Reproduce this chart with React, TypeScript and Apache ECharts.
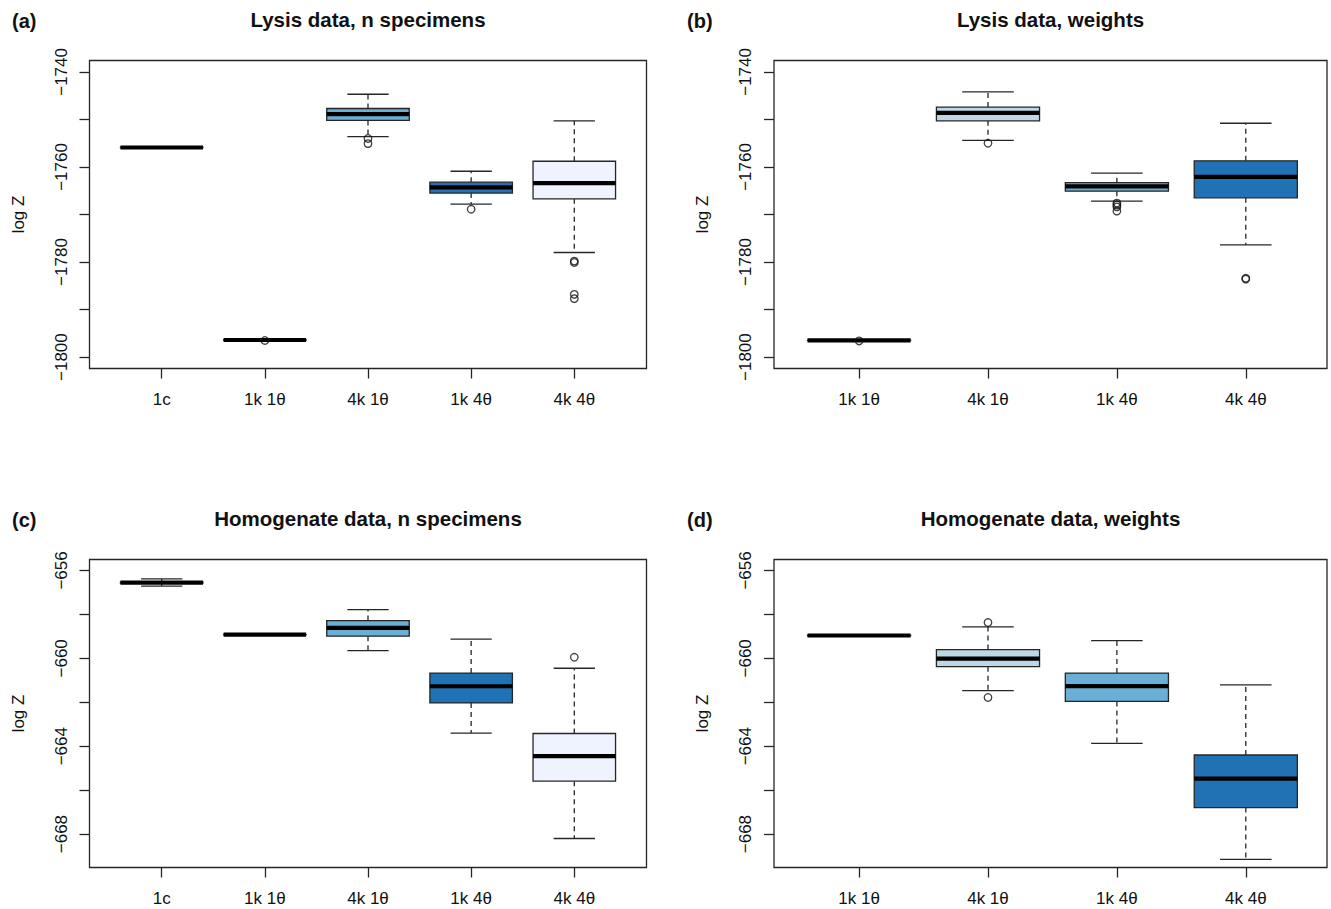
import React, { useEffect, useRef } from 'react';
import * as echarts from 'echarts';

// ---------- categories ----------
const catsN = ['1c', '1k 1θ', '4k 1θ', '1k 4θ', '4k 4θ'];
const catsW = ['1k 1θ', '4k 1θ', '1k 4θ', '4k 4θ'];

// ---------- box statistics: [min, Q1, median, Q3, max] ----------
const lysisNBoxes = [
  [-1755.9, -1755.9, -1755.9, -1755.9, -1755.9],
  [-1796.4, -1796.4, -1796.4, -1796.4, -1796.4],
  [-1753.6, -1750.2, -1748.9, -1747.7, -1744.7],
  [-1767.8, -1765.5, -1764.3, -1763.2, -1760.9],
  [-1778.0, -1766.7, -1763.4, -1758.8, -1750.3],
];
const lysisNOutliers = [
  [2, -1796.5], [3, -1754.0], [3, -1755.1], [4, -1768.9],
  [5, -1779.8], [5, -1780.1], [5, -1786.8], [5, -1787.7],
];

const lysisWBoxes = [
  [-1796.5, -1796.5, -1796.5, -1796.5, -1796.5],
  [-1754.4, -1750.3, -1748.6, -1747.4, -1744.2],
  [-1767.2, -1765.1, -1764.1, -1763.3, -1761.3],
  [-1776.4, -1766.5, -1762.1, -1758.7, -1750.8],
];
const lysisWOutliers = [
  [1, -1796.6], [2, -1755.0], [3, -1767.6], [3, -1768.0], [3, -1768.4], [3, -1769.3],
  [4, -1783.4], [4, -1783.6],
];

const homogNBoxes = [
  [-656.71, -656.57, -656.55, -656.53, -656.38],
  [-658.92, -658.92, -658.92, -658.92, -658.92],
  [-659.65, -658.99, -658.61, -658.28, -657.78],
  [-663.40, -662.03, -661.27, -660.67, -659.12],
  [-668.20, -665.59, -664.45, -663.42, -660.45],
];
const homogNOutliers = [[5, -659.95]];

const homogWBoxes = [
  [-658.96, -658.96, -658.96, -658.96, -658.96],
  [-661.47, -660.38, -660.01, -659.60, -658.57],
  [-663.87, -661.96, -661.26, -660.67, -659.19],
  [-669.15, -666.79, -665.47, -664.40, -661.21],
];
const homogWOutliers = [[2, -658.37], [2, -661.78]];

// ---------- tick values ----------
const lysisTicks = [-1800, -1790, -1780, -1770, -1760, -1750, -1740];
const lysisLabels = [-1800, -1780, -1760, -1740];
const homogTicks = [-668, -666, -664, -662, -660, -658, -656];
const homogLabels = [-668, -664, -660, -656];

// ---------- colours (Blues, recycled) ----------
const blues = ['#eff3ff', '#bdd7e7', '#6baed6', '#2171b5'];

const titles = [
  'Lysis data, n specimens',
  'Lysis data, weights',
  'Homogenate data, n specimens',
  'Homogenate data, weights',
];
const panelTags = ['(a)', '(b)', '(c)', '(d)'];

const FONT = "'Liberation Sans', Arial, Helvetica, sans-serif";
const INK = '#262626';

export default function App() {
  const ref = useRef<HTMLDivElement>(null);

  useEffect(() => {
    if (!ref.current) return;
    const chart = echarts.init(ref.current, undefined, { renderer: 'svg' });

    const panels = [
      { cats: catsN, boxes: lysisNBoxes, outs: lysisNOutliers, ticks: lysisTicks, labels: lysisLabels,
        yMin: -1802.4, yMax: -1737.6, xMin: 0.3, xMax: 5.7,
        grid: { left: 89.5, top: 60.5, width: 557, height: 308 } },
      { cats: catsW, boxes: lysisWBoxes, outs: lysisWOutliers, ticks: lysisTicks, labels: lysisLabels,
        yMin: -1802.4, yMax: -1737.6, xMin: 0.34, xMax: 4.63,
        grid: { left: 774, top: 60.5, width: 553, height: 308 } },
      { cats: catsN, boxes: homogNBoxes, outs: homogNOutliers, ticks: homogTicks, labels: homogLabels,
        yMin: -669.52, yMax: -655.5, xMin: 0.3, xMax: 5.7,
        grid: { left: 89.5, top: 559.5, width: 557, height: 308 } },
      { cats: catsW, boxes: homogWBoxes, outs: homogWOutliers, ticks: homogTicks, labels: homogLabels,
        yMin: -669.52, yMax: -655.5, xMin: 0.34, xMax: 4.63,
        grid: { left: 774, top: 559.5, width: 553, height: 308 } },
    ];

    const grid: any[] = [];
    const xAxis: any[] = [];
    const yAxis: any[] = [];
    const series: any[] = [];
    const title: any[] = [];

    panels.forEach((p, pi) => {
      grid.push({
        ...p.grid,
        show: true,
        borderColor: INK,
        borderWidth: 1.3,
        backgroundColor: 'transparent',
        containLabel: false,
      });
      const cats = p.cats;
      const xticks = cats.map((_, i) => i + 1);
      xAxis.push({
        type: 'value',
        gridIndex: pi,
        min: p.xMin,
        max: p.xMax,
        axisLine: { show: false },
        splitLine: { show: false },
        axisTick: { show: true, length: 10, lineStyle: { color: INK, width: 1.3 }, customValues: xticks },
        axisLabel: {
          show: true,
          margin: 22,
          customValues: xticks,
          formatter: (v: number) => cats[Math.round(v) - 1] ?? '',
          color: '#111',
          fontSize: 17,
          fontFamily: FONT,
        },
      });
      yAxis.push({
        type: 'value',
        gridIndex: pi,
        min: p.yMin,
        max: p.yMax,
        name: 'log Z',
        nameLocation: 'middle',
        nameGap: 63,
        nameTextStyle: { fontSize: 17, fontFamily: FONT, color: '#111' },
        axisLine: { show: false },
        splitLine: { show: false },
        axisTick: { show: true, length: 10, lineStyle: { color: INK, width: 1.3 }, customValues: p.ticks },
        axisLabel: {
          show: true,
          rotate: 90,
          margin: 20,
          customValues: p.labels,
          formatter: (v: number) => String(v).replace('-', '\u2212'),
          color: '#111',
          fontSize: 17,
          fontFamily: FONT,
        },
      });

      const colors = cats.map((_, i) => blues[(pi % 2 === 0 ? i : i) % 4]);
      series.push({
        type: 'custom',
        xAxisIndex: pi,
        yAxisIndex: pi,
        encode: { x: 0, y: [1, 2, 3, 4, 5] },
        data: p.boxes.map((b, i) => [i + 1, ...b]),
        renderItem: (params: any, api: any) => {
          const x = api.value(0);
          const mn = api.value(1), q1 = api.value(2), md = api.value(3), q3 = api.value(4), mx = api.value(5);
          const cx = api.coord([x, md])[0];
          const unit = api.size([1, 0])[0];
          const half = unit * 0.4;
          const cap = unit * 0.2;
          const yMn = api.coord([x, mn])[1];
          const yQ1 = api.coord([x, q1])[1];
          const yMd = api.coord([x, md])[1];
          const yQ3 = api.coord([x, q3])[1];
          const yMx = api.coord([x, mx])[1];
          const lineStyle = { stroke: INK, lineWidth: 1.3, fill: null };
          const dash = { stroke: INK, lineWidth: 1.3, lineDash: [5, 4], fill: null };
          return {
            type: 'group',
            children: [
              { type: 'line', shape: { x1: cx, y1: yQ3, x2: cx, y2: yMx }, style: dash },
              { type: 'line', shape: { x1: cx, y1: yQ1, x2: cx, y2: yMn }, style: dash },
              { type: 'line', shape: { x1: cx - cap, y1: yMx, x2: cx + cap, y2: yMx }, style: lineStyle },
              { type: 'line', shape: { x1: cx - cap, y1: yMn, x2: cx + cap, y2: yMn }, style: lineStyle },
              {
                type: 'rect',
                shape: { x: cx - half, y: yQ3, width: half * 2, height: Math.max(yQ1 - yQ3, 0.01) },
                style: { fill: colors[params.dataIndex], stroke: INK, lineWidth: 1.3 },
              },
              { type: 'line', shape: { x1: cx - half, y1: yMd, x2: cx + half, y2: yMd }, style: { stroke: '#000', lineWidth: 4.2, fill: null } },
            ],
          };
        },
        z: 2,
      });
      series.push({
        type: 'scatter',
        xAxisIndex: pi,
        yAxisIndex: pi,
        data: p.outs,
        symbol: 'circle',
        symbolSize: 7.5,
        itemStyle: { color: 'rgba(0,0,0,0)', borderColor: '#111', borderWidth: 1.3 },
        z: 3,
      });

      const cxTitle = p.grid.left + p.grid.width / 2;
      title.push({
        text: titles[pi],
        left: cxTitle,
        top: p.grid.top - 52,
        textAlign: 'center',
        padding: 0,
        textStyle: { fontSize: 20.5, fontWeight: 'bold', fontFamily: FONT, color: '#111' },
      });
      title.push({
        text: panelTags[pi],
        left: pi % 2 === 0 ? 12 : 687,
        top: p.grid.top - 50,
        padding: 0,
        textStyle: { fontSize: 20, fontWeight: 'bold', fontFamily: FONT, color: '#111' },
      });
    });

    chart.setOption({
      animation: false,
      backgroundColor: '#ffffff',
      title,
      grid,
      xAxis,
      yAxis,
      series,
    });

    return () => chart.dispose();
  }, []);

  return (
    <div
      ref={ref}
      style={{ position: 'fixed', left: 0, top: 0, width: 1331, height: 909, background: '#fff' }}
    />
  );
}
